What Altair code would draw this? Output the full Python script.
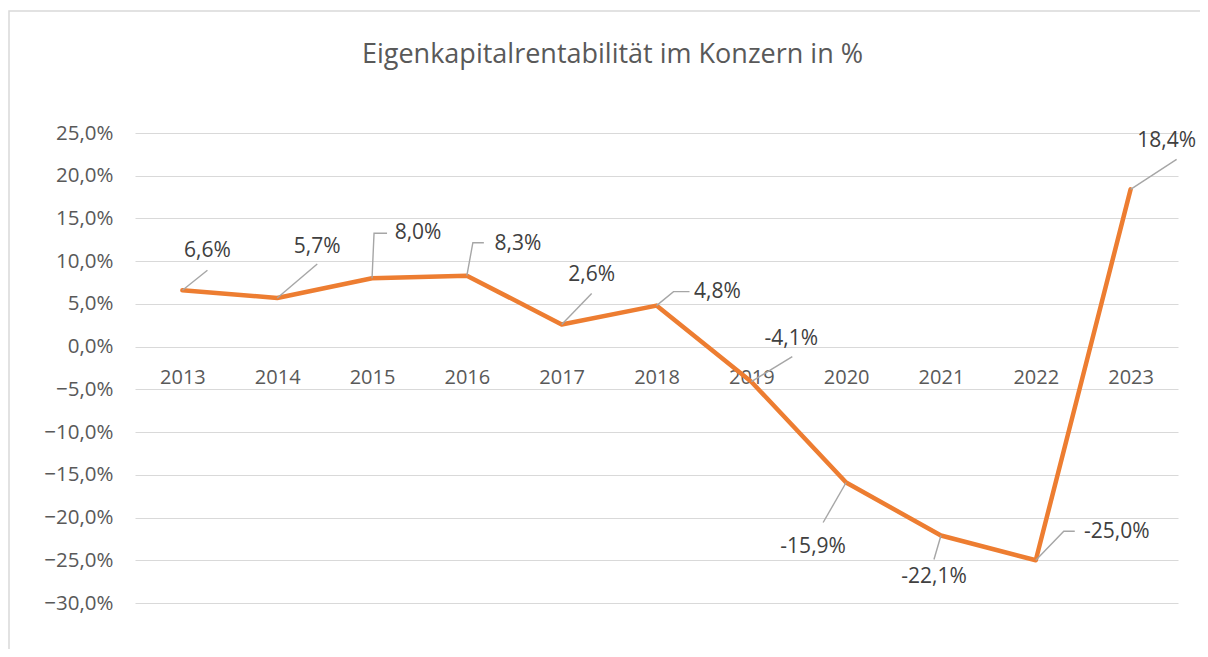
import altair as alt
import pandas as pd

# ---- data ----
years = ["2013", "2014", "2015", "2016", "2017", "2018", "2019", "2020", "2021", "2022", "2023"]
values = [6.6, 5.7, 8.0, 8.3, 2.6, 4.8, -4.1, -15.9, -22.1, -25.0, 18.4]
y_ticks = [-30, -25, -20, -15, -10, -5, 0, 5, 10, 15, 20, 25]
title_text = "Eigenkapitalrentabilität im Konzern in %"

# ---- label placement (pixel offsets from each point; style, not data) ----
label_off = [(25, -39), (40, -51), (46, -45), (51, -32), (30, -49), (61, -14),
             (40, -43), (-33, 64), (-7, 42), (81, -28), (36, -48)]
leader_off = [
    [(0, 0), (25, -20)],
    [(0, 0), (40, -34)],
    [(0, 0), (2, -45), (15, -45)],
    [(0, 0), (6, -33), (17, -33)],
    [(0, 0), (30, -31)],
    [(0, 0), (17, -14), (33, -14)],
    [(0, 0), (41, -25)],
    [(0, 0), (-23, 40)],
    [(0, 0), (-7, 24)],
    [(0, 0), (28, -29), (39, -29)],
    [(0, 0), (46, -30)],
]

W, H = 1043, 470
DOMAIN = [-30, 25]
PX_PER_UNIT = H / (DOMAIN[1] - DOMAIN[0])
FONT = "Open Sans"
AXIS_COLOR = "#595959"


def de_pct(v):
    return f"{v:.1f}%".replace(".", ",")


df = pd.DataFrame({"year": years, "value": values,
                   "label": [de_pct(v) for v in values],
                   "lx": [o[0] for o in label_off],
                   "label_y": [v - o[1] / PX_PER_UNIT for v, o in zip(values, label_off)]})

rows = []
for yr, v, pts in zip(years, values, leader_off):
    for k, (ox, oy) in enumerate(pts):
        rows.append({"year": yr, "ly": v - oy / PX_PER_UNIT, "k": k, "ox": ox})
leader_df = pd.DataFrame(rows)

zero_offset = -H * (0 - DOMAIN[0]) / (DOMAIN[1] - DOMAIN[0])

x_enc = alt.X("year:O", sort=years,
              scale=alt.Scale(type="point", padding=0.5),
              axis=alt.Axis(title=None, orient="bottom", offset=zero_offset,
                            domain=False, ticks=False, grid=False, labelAngle=0,
                            labelFont=FONT, labelFontSize=20, labelColor=AXIS_COLOR,
                            labelPadding=21))
y_scale = alt.Scale(domain=DOMAIN, nice=False, zero=False)
y_enc = alt.Y("value:Q", scale=y_scale,
              axis=alt.Axis(title=None, values=y_ticks, domain=False, ticks=False,
                            grid=True, gridColor="#D9D9D9", gridWidth=1,
                            labelFont=FONT, labelFontSize=20.5, labelColor=AXIS_COLOR,
                            labelPadding=22,
                            labelExpr="replace(format(datum.value, '.1f'), '.', ',') + '%'"))

border = alt.Chart(pd.DataFrame({"a": [0]})).mark_rect(
    fill="transparent", stroke="#D9D9D9", strokeWidth=1.5
).encode(x=alt.value(-126), x2=alt.value(1100), y=alt.value(-122), y2=alt.value(560))

line = alt.Chart(df).mark_line(color="#ED7D31", strokeWidth=4.5,
                               strokeJoin="round", strokeCap="round").encode(x=x_enc, y=y_enc)

leaders = alt.Chart(leader_df).mark_line(color="#A6A6A6", strokeWidth=1.4).encode(
    x=x_enc,
    y=alt.Y("ly:Q", scale=y_scale),
    xOffset=alt.XOffset("ox:Q", scale=None),
    detail="year:N", order="k:O")

labels = alt.Chart(df).mark_text(font=FONT, fontSize=21, color="#404040",
                                 align="center", baseline="middle").encode(
    x=x_enc,
    y=alt.Y("label_y:Q", scale=y_scale),
    xOffset=alt.XOffset("lx:Q", scale=None),
    text="label:N")

chart = alt.layer(border, line, leaders, labels).properties(
    width=W, height=H,
    background="white",
    autosize=alt.AutoSizeParams(type="none"),
    padding={"left": 127, "top": 125, "right": 22, "bottom": 46},
    title=alt.Title(title_text, font=FONT, fontSize=27, fontWeight="normal",
                    color=AXIS_COLOR, anchor="middle", frame="group", dx=-44, offset=-59),
).configure_view(stroke=None)

chart.save("out.html", embed_options={"renderer": "svg", "actions": False})
